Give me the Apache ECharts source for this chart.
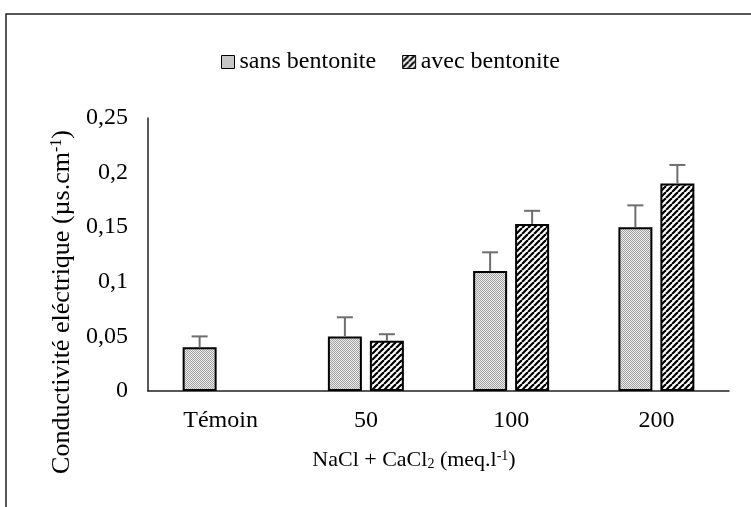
<!DOCTYPE html>
<html>
<head>
<meta charset="utf-8">
<script src="https://cdn.jsdelivr.net/npm/echarts@6/dist/echarts.min.js"></script>
<style>
  html, body { margin: 0; padding: 0; background: #fff; }
  #chart { width: 751px; height: 507px; }
</style>
</head>
<body>
<div id="chart"></div>
<script>
// categories (NaCl + CaCl2 dose)
var categories = ['Témoin', '50', '100', '200'];
var seriesNames = ['sans bentonite', 'avec bentonite'];
// mean values
var sansValues = [0.04, 0.05, 0.11, 0.15];
var avecValues = ['-', 0.046, 0.153, 0.19];
// upper error (std)
var sansErr = [0.01, 0.0175, 0.017, 0.02];
var avecErr = [null, 0.006, 0.012, 0.017];

var FONT = 'Liberation Serif';

// motif pointillé gris
function dotPattern() {
  var c = document.createElement('canvas');
  c.width = 2; c.height = 2;
  var ctx = c.getContext('2d');
  ctx.fillStyle = '#ececec';
  ctx.fillRect(0, 0, 2, 2);
  ctx.fillStyle = '#a2a2a2';
  ctx.fillRect(0, 0, 1, 1);
  ctx.fillRect(1, 1, 1, 1);
  return c;
}
// hachures "/"
function hatchPattern() {
  var s = 6;
  var c = document.createElement('canvas');
  c.width = s; c.height = s;
  var ctx = c.getContext('2d');
  ctx.fillStyle = '#fff';
  ctx.fillRect(0, 0, s, s);
  ctx.strokeStyle = '#000';
  ctx.lineWidth = 2.2;
  for (var k = -1; k <= 1; k++) {
    ctx.beginPath();
    ctx.moveTo(k * s, s);
    ctx.lineTo(k * s + s, 0);
    ctx.stroke();
  }
  return c;
}

var dots = { image: dotPattern(), repeat: 'repeat' };
var hatch = { image: hatchPattern(), repeat: 'repeat' };

var BAR_W = 34;
var GAP = 8;
var OFF = (BAR_W + GAP) / 2;

function errData(vals, errs) {
  var out = [];
  for (var i = 0; i < vals.length; i++) {
    if (errs[i] != null && vals[i] !== '-') out.push([i, vals[i], errs[i]]);
  }
  return out;
}

function errRender(offset) {
  return function (params, api) {
    var i = api.value(0);
    var x = api.coord([i, 0])[0] + offset;
    var y0 = api.coord([i, api.value(1)])[1];
    var y1 = api.coord([i, api.value(1) + api.value(2)])[1];
    var st = { stroke: '#6e6e6e', lineWidth: 2 };
    return {
      type: 'group',
      children: [
        { type: 'line', shape: { x1: x, y1: y0, x2: x, y2: y1 }, style: st },
        { type: 'line', shape: { x1: x - 8, y1: y1, x2: x + 8, y2: y1 }, style: st }
      ]
    };
  };
}

var chart = echarts.init(document.getElementById('chart'));
var option = {
  animation: false,
  backgroundColor: '#fff',
  textStyle: { fontFamily: FONT, color: '#000' },
  legend: {
    data: seriesNames,
    left: 216,
    top: 45,
    icon: 'rect',
    itemWidth: 13,
    itemHeight: 13,
    itemGap: 26,
    itemStyle: { borderColor: '#000', borderWidth: 1 },
    textStyle: { fontFamily: FONT, fontSize: 24, color: '#000' }
  },
  grid: { left: 148, right: 22, top: 118, bottom: 116 },
  xAxis: {
    type: 'category',
    data: categories,
    axisLine: { lineStyle: { color: '#222', width: 1.5 } },
    axisTick: { show: false },
    axisLabel: { fontFamily: FONT, fontSize: 24, color: '#000', margin: 18 }
  },
  yAxis: {
    type: 'value',
    min: 0,
    max: 0.25,
    interval: 0.05,
    splitLine: { show: false },
    axisLine: { show: true, lineStyle: { color: '#222', width: 1.5 } },
    axisTick: { show: false },
    axisLabel: {
      fontFamily: FONT, fontSize: 24, color: '#000', margin: 20,
      formatter: function (v) { return String(Number(v.toFixed(2))).replace('.', ','); }
    }
  },
  graphic: [
    {
      type: 'rect', silent: true, z: -1,
      shape: { x: 6, y: 14, width: 900, height: 700 },
      style: { fill: 'none', stroke: '#222', lineWidth: 1.5 }
    },
    {
      type: 'text', x: 62, y: 302, rotation: Math.PI / 2,
      style: {
        text: 'Conductivité eléctrique (µs.cm{sup|-1})',
        font: '26px "Liberation Serif"', fill: '#000',
        align: 'center', verticalAlign: 'middle',
        rich: { sup: { fontSize: 16, fontFamily: FONT, verticalAlign: 'top', fill: '#000' } }
      }
    },
    {
      type: 'text', x: 414, y: 460,
      style: {
        text: 'NaCl + CaCl{sub|2} (meq.l{sup|-1})',
        font: '22px "Liberation Serif"', fill: '#000',
        align: 'center', verticalAlign: 'middle',
        rich: {
          sup: { fontSize: 14, fontFamily: FONT, verticalAlign: 'top', fill: '#000' },
          sub: { fontSize: 14, fontFamily: FONT, verticalAlign: 'bottom', fill: '#000' }
        }
      }
    }
  ],
  series: [
    {
      name: seriesNames[0], type: 'bar', data: sansValues,
      barWidth: BAR_W, barGap: (GAP / BAR_W * 100).toFixed(1) + '%',
      itemStyle: { color: dots, borderColor: '#000', borderWidth: 2 }
    },
    {
      name: seriesNames[1], type: 'bar', data: avecValues,
      barWidth: BAR_W,
      itemStyle: { color: hatch, borderColor: '#000', borderWidth: 2 }
    },
    {
      type: 'custom', name: 'errSans', renderItem: errRender(-OFF),
      data: errData(sansValues, sansErr), z: 3, silent: true
    },
    {
      type: 'custom', name: 'errAvec', renderItem: errRender(OFF),
      data: errData(avecValues, avecErr), z: 3, silent: true
    }
  ]
};
chart.setOption(option);
</script>
</body>
</html>
